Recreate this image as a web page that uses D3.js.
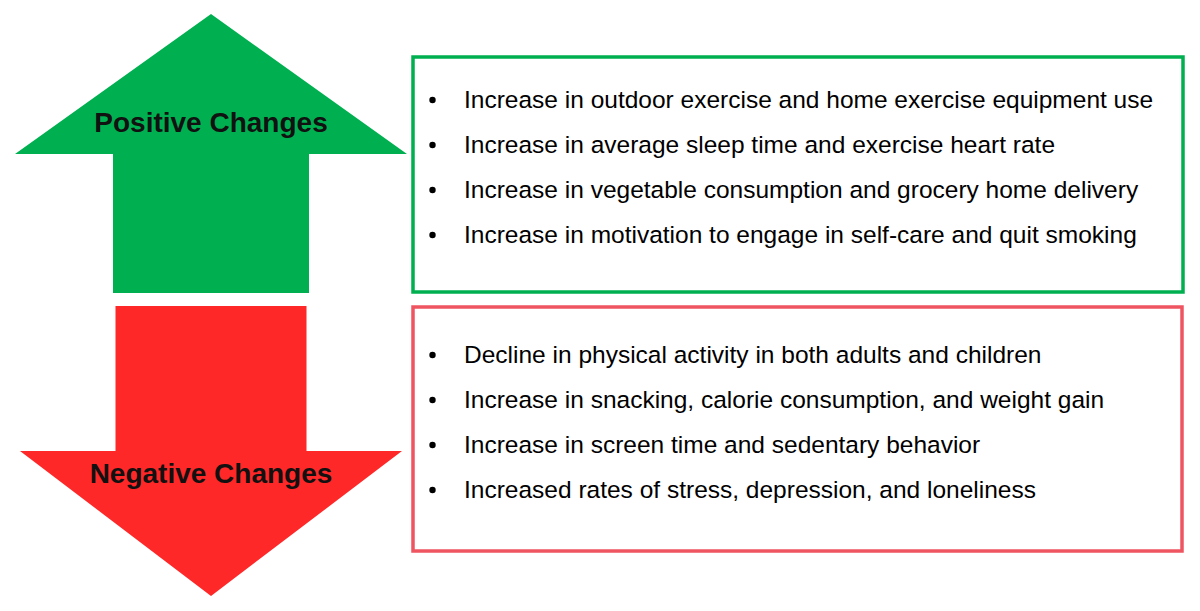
<!DOCTYPE html>
<html lang="en">
<head>
    <meta charset="UTF-8">
    <title>positive and negative changes</title>
    <script src="https://d3js.org/d3.v7.min.js"></script>
    <style>
        body { margin: 0; background: #fff; }
    </style>
</head>
<body>
    <svg width="1200" height="611"></svg>
    <script>
        // panel content
        const arrowLabels = ['Positive Changes', 'Negative Changes'];
        const positiveItems = [
            'Increase in outdoor exercise and home exercise equipment use',
            'Increase in average sleep time and exercise heart rate',
            'Increase in vegetable consumption and grocery home delivery',
            'Increase in motivation to engage in self-care and quit smoking'
        ];
        const negativeItems = [
            'Decline in physical activity in both adults and children',
            'Increase in snacking, calorie consumption, and weight gain',
            'Increase in screen time and sedentary behavior',
            'Increased rates of stress, depression, and loneliness'
        ];

        const svg = d3.select('svg');
        const font = 'Liberation Sans, Arial, Helvetica, sans-serif';

        // layout of the two panels (top = positive, bottom = negative)
        const panels = [
            {
                items: positiveItems, label: arrowLabels[0], dir: 'up',
                fill: '#00b050', stroke: '#00b050',
                box: {x: 413, y: 57, w: 770, h: 235},
                arrow: {cx: 211, tip: 14, headBase: 154, headHalf: 196, shaftHalf: 98, end: 293},
                labelY: 132, firstLine: 108
            },
            {
                items: negativeItems, label: arrowLabels[1], dir: 'down',
                fill: '#ff2828', stroke: '#ef5461',
                box: {x: 413, y: 307, w: 769, h: 244},
                arrow: {cx: 211, tip: 596, headBase: 451, headHalf: 191, shaftHalf: 95.5, end: 306},
                labelY: 483, firstLine: 363
            }
        ];

        const line = d3.line();

        panels.forEach(p => {
            const a = p.arrow;
            // arrow outline: shaft end -> head base -> tip
            const pts = [
                [a.cx - a.shaftHalf, a.end],
                [a.cx - a.shaftHalf, a.headBase],
                [a.cx - a.headHalf, a.headBase],
                [a.cx, a.tip],
                [a.cx + a.headHalf, a.headBase],
                [a.cx + a.shaftHalf, a.headBase],
                [a.cx + a.shaftHalf, a.end]
            ];
            svg.append('path')
                .attr('d', line(pts) + 'Z')
                .attr('fill', p.fill);

            svg.append('text')
                .attr('x', a.cx)
                .attr('y', p.labelY)
                .attr('text-anchor', 'middle')
                .attr('font-family', font)
                .attr('font-weight', 'bold')
                .attr('font-size', 28)
                .attr('fill', '#111')
                .text(p.label);

            svg.append('rect')
                .attr('x', p.box.x)
                .attr('y', p.box.y)
                .attr('width', p.box.w)
                .attr('height', p.box.h)
                .attr('fill', 'none')
                .attr('stroke', p.stroke)
                .attr('stroke-width', 3.5);

            // one row per bullet
            const yScale = d3.scaleLinear()
                .domain([0, p.items.length - 1])
                .range([p.firstLine, p.firstLine + 45 * (p.items.length - 1)]);

            const rows = svg.append('g')
                .selectAll('g')
                .data(p.items)
                .enter().append('g')
                .attr('transform', (d, i) => 'translate(0,' + yScale(i) + ')');

            rows.append('circle')
                .attr('cx', 432.5)
                .attr('cy', -8)
                .attr('r', 3.2)
                .attr('fill', '#000');

            rows.append('text')
                .attr('x', 464)
                .attr('font-family', font)
                .attr('font-size', 24.5)
                .attr('fill', '#000')
                .text(d => d);
        });
    </script>
</body>
</html>
